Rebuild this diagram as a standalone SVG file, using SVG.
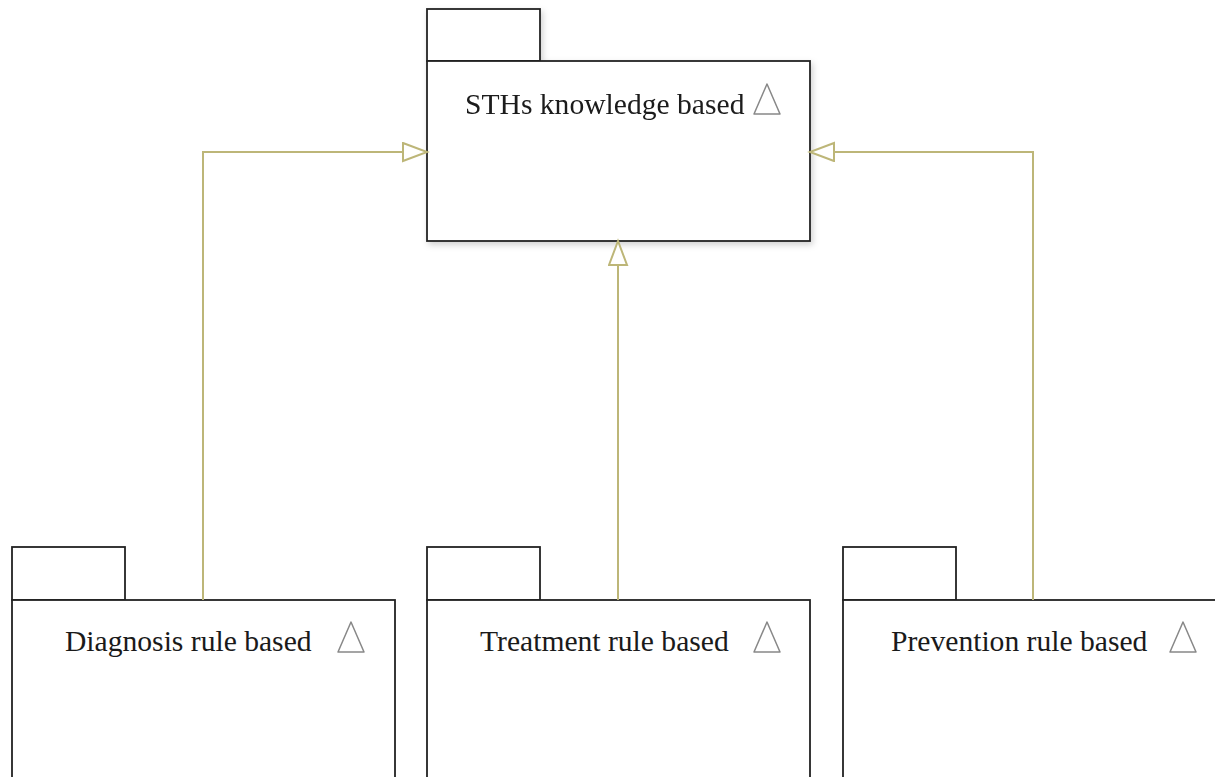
<svg xmlns="http://www.w3.org/2000/svg" width="1215" height="777" viewBox="0 0 1215 777">
<defs>
<filter id="sh" x="-5%" y="-5%" width="115%" height="115%">
<feDropShadow dx="2" dy="3" stdDeviation="3" flood-color="#000" flood-opacity="0.18"/>
</filter>
<marker id="gen" markerWidth="28" markerHeight="22" refX="25" refY="10" orient="auto" markerUnits="userSpaceOnUse">
<path d="M1,1 L25,10 L1,19 Z" fill="#fff" stroke="#bdb678" stroke-width="2"/>
</marker>
<style>
.box{fill:#fff;stroke:#222;stroke-width:1.8}
.lbl{font-family:"Liberation Serif","Times New Roman",serif;font-size:29.6px;fill:#1a1a1a}
.ico{fill:#fff;stroke:#888;stroke-width:1.5;stroke-linejoin:round}
.con{fill:none;stroke:#bdb678;stroke-width:2}
</style>
</defs>
<rect width="1215" height="777" fill="#fff"/>
<g id="sths" filter="url(#sh)">
<rect class="box" x="427" y="9" width="113" height="52"/>
<rect class="box" x="427" y="61" width="383" height="180"/>
<text class="lbl" x="465" y="114">STHs knowledge based</text>
<path class="ico" d="M767,84 L754,114 L780,114 Z"/>
</g>
<g id="diagnosis">
<rect class="box" x="12" y="547" width="113" height="53"/>
<rect class="box" x="12" y="600" width="383" height="190"/>
<text class="lbl" x="65" y="651">Diagnosis rule based</text>
<path class="ico" d="M351,622 L338,652 L364,652 Z"/>
</g>
<g id="treatment">
<rect class="box" x="427" y="547" width="113" height="53"/>
<rect class="box" x="427" y="600" width="383" height="190"/>
<text class="lbl" x="480" y="651">Treatment rule based</text>
<path class="ico" d="M767,622 L754,652 L780,652 Z"/>
</g>
<g id="prevention">
<rect class="box" x="843" y="547" width="113" height="53"/>
<rect class="box" x="843" y="600" width="383" height="190"/>
<text class="lbl" x="891" y="651">Prevention rule based</text>
<path class="ico" d="M1183,622 L1170,652 L1196,652 Z"/>
</g>
<g id="connectors">
<path class="con" d="M203,600 L203,152 L427,152" marker-end="url(#gen)"/>
<path class="con" d="M618,600 L618,241" marker-end="url(#gen)"/>
<path class="con" d="M1033,600 L1033,152 L810,152" marker-end="url(#gen)"/>
</g>
</svg>
